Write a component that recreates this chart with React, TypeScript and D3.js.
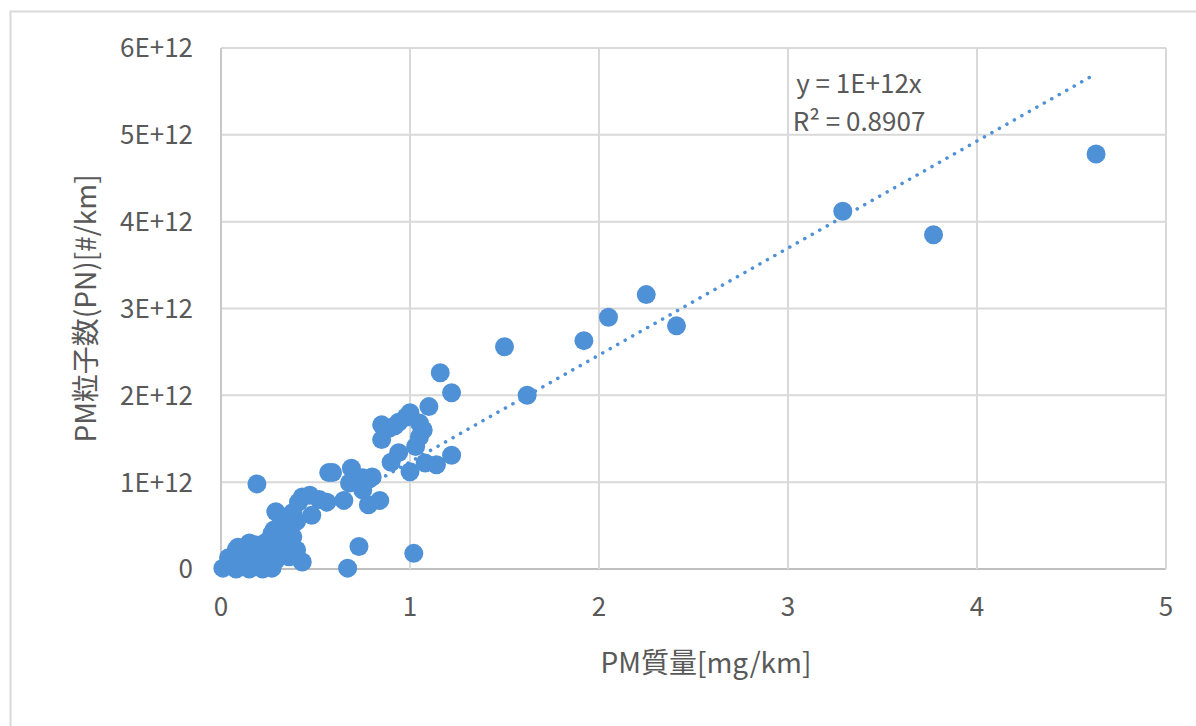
import React from 'react';
import * as d3 from 'd3';

// PM mass [mg/km]
const pmMass = [
  4.63, 3.77, 3.29, 2.41, 2.25, 2.05, 1.92, 1.62, 1.50, 1.22,
  1.16, 1.22, 1.10, 1.00, 0.85, 0.89, 0.94, 1.05, 0.85, 1.05,
  1.03, 0.94, 0.90, 1.00, 1.08, 1.14, 0.57, 0.69, 0.75, 0.80,
  0.68, 0.78, 0.75, 0.84, 0.78, 0.65, 0.56, 0.73, 0.67, 1.02,
  0.19, 0.47, 0.41, 0.48, 0.29, 0.32, 0.27, 0.38, 0.40, 0.43,
  0.36, 0.24, 0.20, 0.15, 0.08, 0.11, 0.04, 0.01, 0.08, 0.15,
  0.22, 0.27, 0.29, 0.19, 0.13, 0.25, 0.32, 0.43, 0.59, 0.35,
  0.33, 0.12, 0.06, 0.22, 0.30, 0.52, 0.98, 1.07, 0.92, 0.37,
  0.05, 0.10, 0.17, 0.20, 0.26, 0.30, 0.34, 0.28, 0.31, 0.35,
  0.40, 0.38, 0.14, 0.24, 0.18, 0.09,
];

// PM particle number [#/km], in units of 1E+12
const pmNumber = [
  4.78, 3.85, 4.12, 2.80, 3.16, 2.90, 2.63, 2.00, 2.56, 1.31,
  2.26, 2.03, 1.87, 1.80, 1.66, 1.62, 1.69, 1.68, 1.49, 1.52,
  1.41, 1.34, 1.23, 1.12, 1.22, 1.20, 1.11, 1.16, 1.05, 1.06,
  0.99, 1.03, 0.91, 0.79, 0.74, 0.79, 0.77, 0.26, 0.01, 0.18,
  0.98, 0.85, 0.77, 0.62, 0.66, 0.53, 0.41, 0.37, 0.22, 0.08,
  0.14, 0.31, 0.25, 0.30, 0.22, 0.18, 0.13, 0.01, 0.00, 0.00,
  0.00, 0.01, 0.10, 0.10, 0.07, 0.18, 0.25, 0.83, 1.11, 0.45,
  0.60, 0.20, 0.05, 0.15, 0.30, 0.80, 1.75, 1.60, 1.65, 0.55,
  0.08, 0.12, 0.15, 0.05, 0.25, 0.35, 0.30, 0.45, 0.48, 0.55,
  0.55, 0.65, 0.22, 0.08, 0.28, 0.25,
];

const xTicks = [0, 1, 2, 3, 4, 5];
const yTicks = [0, 1e12, 2e12, 3e12, 4e12, 5e12, 6e12];
const yTickLabels = ['0', '1E+12', '2E+12', '3E+12', '4E+12', '5E+12', '6E+12'];

// linear trendline through origin
const trendSlope = 1.232e12;
const trendLabel = ['y = 1E+12x', 'R² = 0.8907'];

const W = 1196;
const H = 726;
const margin = { top: 48, right: 30, bottom: 157, left: 221 };
const FONT = '"Noto Sans CJK JP", "Noto Sans", sans-serif';
const BLUE = '#4e91d6';
const TXT = '#595959';

export default function App() {
  const x = d3.scaleLinear().domain([0, 5]).range([margin.left, 1166]);
  const y = d3.scaleLinear().domain([0, 6e12]).range([H - margin.bottom, margin.top]);

  const points = pmMass.map((m, i) => ({ m, n: pmNumber[i] * 1e12 }));
  const xMax = d3.max(pmMass) as number;
  const trend = d3.line<number>()
    .x(d => x(d))
    .y(d => y(d * trendSlope));

  return (
    <div style={{ position: 'absolute', left: 0, top: 0 }}>
      <svg width={W} height={H} style={{ display: 'block', background: '#fff' }}>
        {/* outer chart border (partially cropped) */}
        <path d={`M10.5,${H} V11.5 H${W}`} fill="none" stroke="#d9d9d9" strokeWidth={2} />

        {/* gridlines */}
        {yTicks.map(t => (
          <line key={'gy' + t} x1={x(0)} x2={x(5)} y1={y(t)} y2={y(t)}
            stroke={t === 0 ? '#bfbfbf' : '#d9d9d9'} strokeWidth={2} />
        ))}
        {xTicks.map(t => (
          <line key={'gx' + t} x1={x(t)} x2={x(t)} y1={y(0)} y2={y(6e12)}
            stroke={t === 0 ? '#c8c8c8' : '#d9d9d9'} strokeWidth={2} />
        ))}

        {/* tick labels */}
        {yTicks.map((t, i) => (
          <text key={'ly' + t} x={193} y={y(t)} dy="0.36em" textAnchor="end"
            fontFamily={FONT} fontSize={26} fill={TXT}>{yTickLabels[i]}</text>
        ))}
        {xTicks.map(t => (
          <text key={'lx' + t} x={x(t)} y={607} dy="0.36em" textAnchor="middle"
            fontFamily={FONT} fontSize={26} fill={TXT}>{t}</text>
        ))}

        {/* markers */}
        {points.map((p, i) => (
          <circle key={i} cx={x(p.m)} cy={y(p.n)} r={9.5} fill={BLUE} />
        ))}

        {/* trendline */}
        <path d={trend([0, xMax]) || ''} fill="none" stroke={BLUE} strokeWidth={3.5}
          strokeLinecap="round" strokeDasharray="0.1 8.5" />

        {trendLabel.map((s, i) => (
          <text key={s} x={859} y={93 + i * 38} textAnchor="middle"
            fontFamily={FONT} fontSize={26} fill={TXT}>{s}</text>
        ))}

        {/* axis titles */}
        <text x={706} y={663} dy="0.36em" textAnchor="middle"
          fontFamily={FONT} fontSize={28} fill={TXT}>PM質量[mg/km]</text>
        <text transform={`translate(86,${(y(0) + y(6e12)) / 2 + 0}) rotate(-90)`}
          dy="0.36em" textAnchor="middle"
          fontFamily={FONT} fontSize={28} fill={TXT}>PM粒子数(PN)[#/km]</text>
      </svg>
    </div>
  );
}
